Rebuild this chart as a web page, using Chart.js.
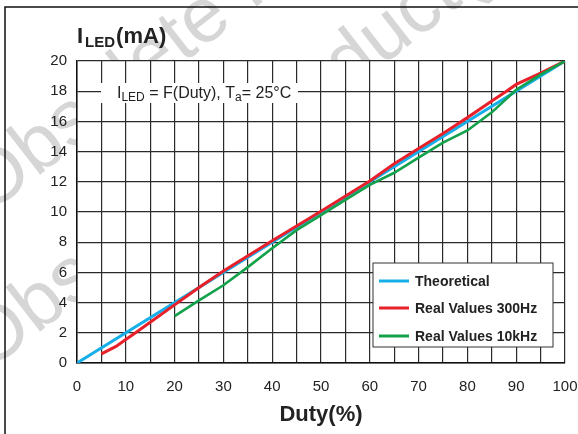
<!DOCTYPE html>
<html>
<head>
<meta charset="utf-8">
<script src="https://cdn.jsdelivr.net/npm/chart.js@4.4.0/dist/chart.umd.min.js"></script>
<style>
  html, body { margin: 0; padding: 0; background: #fff; }
  #wrap { width: 578px; height: 434px; }
</style>
</head>
<body>
<div id="wrap"><canvas id="grafico" width="578" height="434"></canvas></div>
<script>
// Dados
const nomesSeries = ["Theoretical", "Real Values 300Hz", "Real Values 10kHz"];
const coresSeries = ["#15aee8", "#e8202a", "#13a14b"];

const teoricoX = [0, 100];
const teoricoY = [0, 20];

const real300X = [5, 8, 10, 12, 15, 20, 25, 30, 40, 50, 60, 65, 70, 75, 80, 85, 88, 90, 95, 100];
const real300Y = [0.6, 1.1, 1.55, 2.0, 2.7, 3.85, 5.0, 6.1, 8.1, 10.05, 12.05, 13.2, 14.2, 15.2, 16.25, 17.35, 18.0, 18.45, 19.2, 20];

const real10kX = [20, 25, 30, 35, 40, 45, 50, 55, 60, 65, 70, 75, 80, 85, 90, 95, 100];
const real10kY = [3.1, 4.15, 5.15, 6.35, 7.6, 8.8, 9.8, 10.8, 11.8, 12.6, 13.6, 14.6, 15.4, 16.6, 18.1, 19.1, 20];

const ticksY = [0, 2, 4, 6, 8, 10, 12, 14, 16, 18, 20];
const ticksX = [0, 10, 20, 30, 40, 50, 60, 70, 80, 90, 100];

const fonte = '"Liberation Sans", Arial, Helvetica, sans-serif';

function pontos(xs, ys) {
  return xs.map((x, i) => ({ x: x, y: ys[i] }));
}

// Marca d'água, moldura, título, anotação e legenda
const extras = {
  id: "extras",
  beforeDraw(chart) {
    const ctx = chart.ctx;
    const area = chart.chartArea;
    ctx.save();
    ctx.fillStyle = "#fff";
    ctx.fillRect(0, 0, chart.width, chart.height);
    // marca d'água
    ctx.fillStyle = "#d6d6d6";
    ctx.font = "78px " + fonte;
    [215, 372].forEach((y0) => {
      ctx.save();
      ctx.translate(-12, y0);
      ctx.rotate(-0.66);
      ctx.fillText("Obsolete Product(s)", 0, 0);
      ctx.restore();
    });
    // fundo da área do gráfico
    ctx.fillStyle = "#fff";
    ctx.fillRect(area.left, area.top, area.right - area.left, area.bottom - area.top);
    // moldura
    ctx.strokeStyle = "#111";
    ctx.lineWidth = 1.5;
    ctx.beginPath();
    ctx.moveTo(5, chart.height);
    ctx.lineTo(5, 7);
    ctx.lineTo(chart.width, 7);
    ctx.stroke();
    ctx.restore();
  },
  beforeDatasetsDraw(chart) {
    const ctx = chart.ctx;
    ctx.save();
    // caixa da anotação
    ctx.fillStyle = "#fff";
    ctx.fillRect(101, 83, 197, 20);
    ctx.fillStyle = "#222";
    ctx.textBaseline = "alphabetic";
    let x = 117;
    const partes = [
      ["I", 16, 0], ["LED", 12, 3], [" = F(Duty), T", 16, 0], ["a", 12, 3], ["= 25\u00B0C", 16, 0]
    ];
    partes.forEach((p) => {
      ctx.font = p[1] + "px " + fonte;
      ctx.fillText(p[0], x, 98 + p[2]);
      x += ctx.measureText(p[0]).width;
    });
    ctx.restore();
  },
  afterDraw(chart) {
    const ctx = chart.ctx;
    ctx.save();
    // título do eixo Y
    ctx.fillStyle = "#222";
    let x = 77;
    [["I", 22, 0], ["LED", 15, 4], ["(mA)", 22, 0]].forEach((p, i) => {
      ctx.font = "bold " + p[1] + "px " + fonte;
      ctx.fillText(p[0], x, 43 + p[2]);
      x += ctx.measureText(p[0]).width + (i === 0 ? 2 : 1);
    });
    // legenda
    ctx.fillStyle = "#fff";
    ctx.fillRect(373, 263, 180, 84);
    ctx.strokeStyle = "#333";
    ctx.lineWidth = 1;
    ctx.strokeRect(373, 263, 180, 84);
    const linhas = [281, 308, 336];
    chart.data.datasets.forEach((ds, i) => {
      ctx.strokeStyle = ds.borderColor;
      ctx.lineWidth = 3;
      ctx.beginPath();
      ctx.moveTo(379, linhas[i]);
      ctx.lineTo(409, linhas[i]);
      ctx.stroke();
      ctx.fillStyle = "#222";
      ctx.font = "bold 14px " + fonte;
      ctx.textBaseline = "middle";
      ctx.fillText(ds.label, 415, linhas[i] + 1);
    });
    ctx.restore();
  }
};

const ctx = document.getElementById("grafico").getContext("2d");
new Chart(ctx, {
  type: "scatter",
  data: {
    datasets: [
      { label: nomesSeries[0], data: pontos(teoricoX, teoricoY), borderColor: coresSeries[0], borderWidth: 3, order: 2 },
      { label: nomesSeries[1], data: pontos(real300X, real300Y), borderColor: coresSeries[1], borderWidth: 3, order: 1 },
      { label: nomesSeries[2], data: pontos(real10kX, real10kY), borderColor: coresSeries[2], borderWidth: 2.6, order: 0 }
    ].map((d) => Object.assign(d, { showLine: true, pointRadius: 0, fill: false, tension: 0 }))
  },
  options: {
    responsive: false,
    animation: false,
    devicePixelRatio: 1,
    layout: { padding: { top: 61, right: 0, left: 0, bottom: 0 } },
    plugins: { legend: { display: false }, tooltip: { enabled: false } },
    scales: {
      x: {
        type: "linear",
        min: 0,
        max: 100,
        afterBuildTicks: (s) => { s.ticks = []; for (let v = 0; v <= 100; v += 5) s.ticks.push({ value: v }); },
        afterFit: (s) => { s.height = 71; s.paddingRight = 13; s.paddingLeft = 0; },
        grid: { color: "#2a2a2a", lineWidth: 1.2, drawTicks: false },
        border: { color: "#111", width: 1.5 },
        ticks: {
          color: "#222",
          font: { family: fonte, size: 15 },
          padding: 15,
          maxRotation: 0,
          autoSkip: false,
          callback: (v) => (ticksX.includes(v) ? String(v) : "")
        },
        title: {
          display: true,
          text: "Duty(%)",
          color: "#222",
          font: { family: fonte, size: 22, weight: "bold" },
          padding: { top: 0, bottom: 6 }
        }
      },
      y: {
        type: "linear",
        min: 0,
        max: 20,
        afterBuildTicks: (s) => { s.ticks = ticksY.map((v) => ({ value: v })); },
        afterFit: (s) => { s.width = 77; },
        grid: { color: "#2a2a2a", lineWidth: 1.2, drawTicks: false },
        border: { color: "#111", width: 1.5 },
        ticks: {
          color: "#222",
          font: { family: fonte, size: 15 },
          padding: 10,
          callback: (v) => String(v)
        }
      }
    }
  },
  plugins: [extras]
});
</script>
</body>
</html>
